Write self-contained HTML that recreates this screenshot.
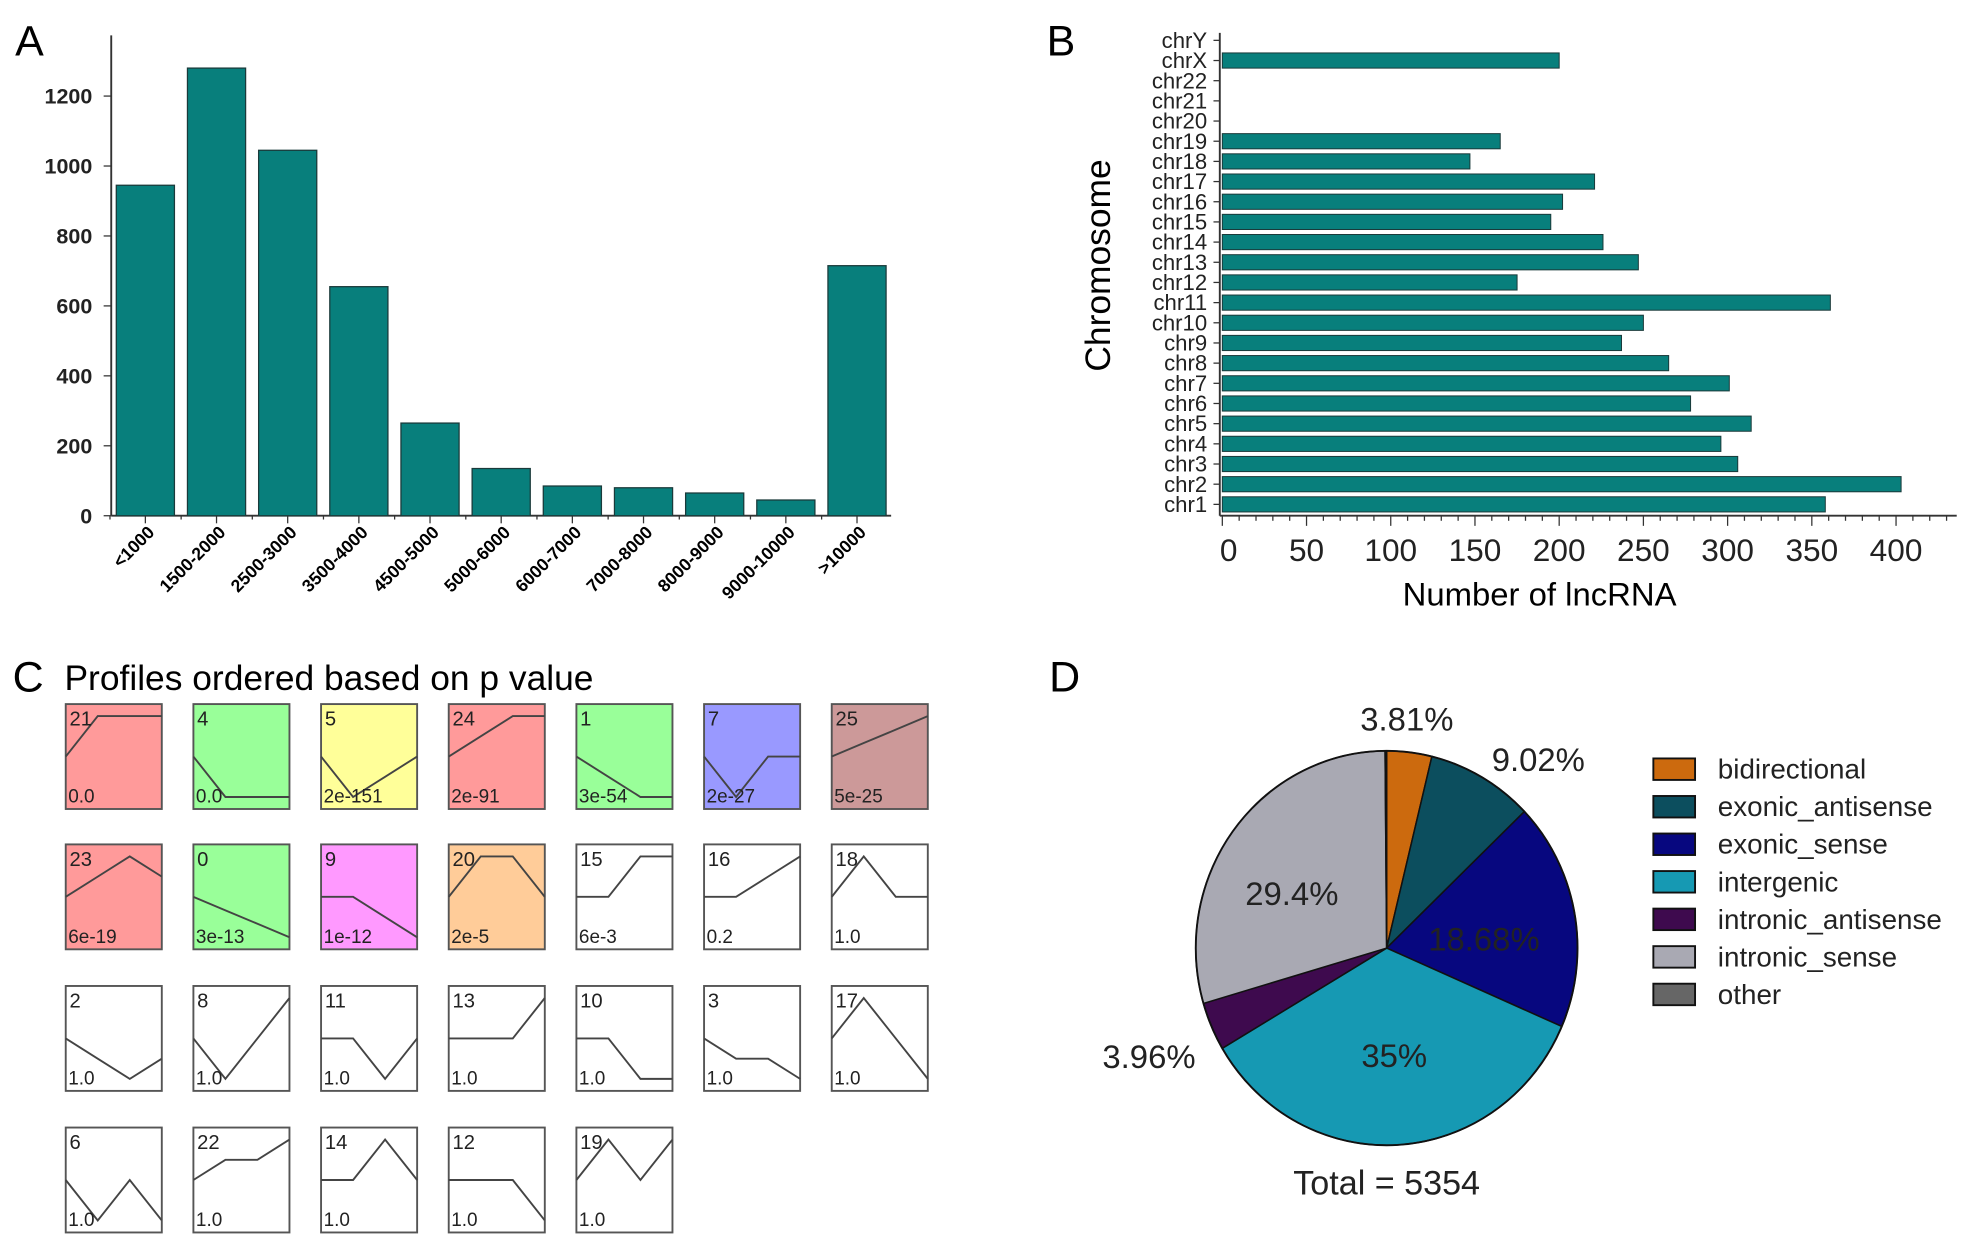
<!DOCTYPE html>
<html><head><meta charset="utf-8"><style>
html,body{margin:0;padding:0;background:#fff}
svg{display:block;font-family:"Liberation Sans",sans-serif}
</style></head><body>
<svg id="s" width="1982" height="1247" viewBox="0 0 1568 986.5" preserveAspectRatio="none" xmlns="http://www.w3.org/2000/svg"></svg>
<script>
// Panel A data
const lenCats = ["<1000","1500-2000","2500-3000","3500-4000","4500-5000","5000-6000","6000-7000","7000-8000","8000-9000","9000-10000",">10000"];
const lenVals = [945,1280,1045,655,265,135,85,80,65,45,715];
const lenTicks = [0,200,400,600,800,1000,1200];
// Panel B data
const chrCats = ["chr1","chr2","chr3","chr4","chr5","chr6","chr7","chr8","chr9","chr10","chr11","chr12","chr13","chr14","chr15","chr16","chr17","chr18","chr19","chr20","chr21","chr22","chrX","chrY"];
const chrVals = [358,403,306,296,314,278,301,265,237,250,361,175,247,226,195,202,221,147,165,0,0,0,200,0];
const chrTicks = [0,50,100,150,200,250,300,350,400];
// Panel C data
const profIds = ["21","4","5","24","1","7","25","23","0","9","20","15","16","18","2","8","11","13","10","3","17","6","22","14","12","19"];
const profP = ["0.0","0.0","2e-151","2e-91","3e-54","2e-27","5e-25","6e-19","3e-13","1e-12","2e-5","6e-3","0.2","1.0","1.0","1.0","1.0","1.0","1.0","1.0","1.0","1.0","1.0","1.0","1.0","1.0"];
const profVals = [[0,2,2,2],[0,-2,-2,-2],[0,-2,-1,0],[0,1,2,2],[0,-1,-2,-2],[0,-2,0,0],[0,0.67,1.33,2],
[0,1,2,1],[0,-0.67,-1.33,-2],[0,0,-1,-2],[0,2,2,0],[0,0,2,2],[0,0,1,2],[0,2,0,0],
[0,-1,-2,-1],[0,-2,0,2],[0,0,-2,0],[0,0,0,2],[0,0,-2,-2],[0,-1,-1,-2],[0,2,0,-2],
[0,-2,0,-2],[0,1,1,2],[0,0,2,0],[0,0,0,-2],[0,2,0,2]];
const profFill = ["#ff9a9a","#99ff99","#ffff99","#ff9a9a","#99ff99","#9999ff","#cc9999","#ff9a9a","#99ff99","#ff99ff","#ffcc99","#fff","#fff","#fff","#fff","#fff","#fff","#fff","#fff","#fff","#fff","#fff","#fff","#fff","#fff","#fff"];
// Panel D data
const pieCats = ["bidirectional","exonic_antisense","exonic_sense","intergenic","intronic_antisense","intronic_sense","other"];
const pieVals = [3.81,9.02,18.68,35,3.96,29.4,0.13];
const pieLabels = ["3.81%","9.02%","18.68%","35%","3.96%","29.4%",""];
const pieColors = ["#cc6a0e","#0c4e5e","#07077f","#1699b3","#3e0a4e","#a9a9b3","#666"];

const S=document.getElementById('s'),NS="http://www.w3.org/2000/svg";
function mk(t,a,txt){const e=document.createElementNS(NS,t);for(const k in a)e.setAttribute(k,a[k]);if(txt!==undefined)e.textContent=txt;S.appendChild(e);return e;}

// ---- Panel A ----
let e=mk('text',{x:12,y:44,'font-size':34},'A');

const aY=v=>408-v*332/1200, aX0=92, aPitch=56.3, aW=46;
e=mk('line',{x1:88,y1:28,x2:88,y2:408,stroke:'#333','stroke-width':1.5});

e=mk('line',{x1:88,y1:408,x2:705,y2:408,stroke:'#333','stroke-width':1.5});

lenTicks.forEach(t=>{mk('line',{x1:82,x2:88,y1:aY(t),y2:aY(t),stroke:'#333'});
 e=mk('text',{x:73,y:aY(t)+6,'font-size':17,'font-weight':'bold','text-anchor':'end',fill:'#222'},t);
 });
lenVals.forEach((v,i)=>{const x=aX0+i*aPitch;
 e=mk('rect',{x:x,y:aY(v),width:aW,height:408-aY(v),fill:'#087f7c',stroke:'#1a3a3a','stroke-width':1});
 
 mk('line',{x1:x+aW/2,x2:x+aW/2,y1:408,y2:414,stroke:'#333'});
 mk('line',{x1:x-5,x2:x-5,y1:408,y2:411,stroke:'#333'});
 const lx=x+aW/2+8, ly=422;
 e=mk('text',{x:lx,y:ly,'font-size':14,'font-weight':'bold','text-anchor':'end',transform:`rotate(-45 ${lx} ${ly})`},lenCats[i]);
 });

// ---- Panel B ----
e=mk('text',{x:828,y:44,'font-size':34},'B');

const bX=v=>967+v*533/400, bY=i=>399-i*15.96;
e=mk('line',{x1:965,y1:26,x2:965,y2:408,stroke:'#333','stroke-width':1.5});

e=mk('line',{x1:965,y1:408,x2:1548,y2:408,stroke:'#333','stroke-width':1.5});

for(let v=0;v<=435;v+=10){const x=bX(v);mk('line',{x1:x,x2:x,y1:408,y2:v%50==0?416:412,stroke:'#333'});}
chrTicks.forEach(t=>{e=mk('text',{x:bX(t)+(t==0?5:0),y:444,'font-size':25,'text-anchor':'middle',fill:'#222'},t);
 });
e=mk('text',{x:1218,y:479,'font-size':26,'text-anchor':'middle'},'Number of lncRNA');

e=mk('text',{x:878,y:210,'font-size':28,'text-anchor':'middle',transform:'rotate(-90 878 210)'},'Chromosome');

chrVals.forEach((v,i)=>{const y=bY(i);
 mk('line',{x1:960,x2:965,y1:y,y2:y,stroke:'#333'});
 if(v>0){e=mk('rect',{x:967,y:y-6,width:bX(v)-967,height:12,fill:'#087f7c',stroke:'#1a3a3a','stroke-width':0.8});
 }
 e=mk('text',{x:955,y:y+6,'font-size':17.5,'text-anchor':'end',fill:'#222'},chrCats[i]);
 });

// ---- Panel C ----
e=mk('text',{x:10,y:547,'font-size':34},'C');

e=mk('text',{x:51,y:546,'font-size':28},'Profiles ordered based on p value');

const rowsY=[557,668,780,892];
profIds.forEach((id,i)=>{const c=i%7,r=Math.floor(i/7);const x=52+c*101,y=rowsY[r],w=76,h=83;
 e=mk('rect',{x:x,y:y,width:w,height:h,fill:profFill[i],stroke:'#555','stroke-width':1.5});
 
 const pv=profVals[i];
 const pts=pv.map((v,k)=>`${x+k*w/3},${y+h/2-v*16}`).join(' ');
 e=mk('polyline',{points:pts,fill:'none',stroke:'#444','stroke-width':1.5});
 
 e=mk('text',{x:x+3,y:y+17,'font-size':16,fill:'#222'},id);
 
 e=mk('text',{x:x+2,y:y+h-5,'font-size':15,fill:'#222'},profP[i]);
 });

// ---- Panel D ----
e=mk('text',{x:830,y:547,'font-size':34},'D');

const cx=1097,cy=750,rx=151,ry=156;const tot=pieVals.reduce((a,b)=>a+b,0);
let acc=0;
pieVals.forEach((v,i)=>{const a0=acc/tot*2*Math.PI;acc+=v;const a1=acc/tot*2*Math.PI;
 const p=a=>[cx+rx*Math.sin(a),cy-ry*Math.cos(a)];const [x0,y0]=p(a0),[x1,y1]=p(a1);
 e=mk('path',{d:`M${cx},${cy}L${x0},${y0}A${rx},${ry} 0 ${a1-a0>Math.PI?1:0} 1 ${x1},${y1}Z`,fill:pieColors[i],stroke:'#111','stroke-width':1.2});
 });
e=mk('ellipse',{cx:cx,cy:cy,rx:rx,ry:ry,fill:'none',stroke:'#111','stroke-width':1.5});
const lblPos=[[1113,578],[1217,610],[1174,752],[1103,844],[909,845],[1022,716]];
lblPos.forEach((p,i)=>{e=mk('text',{x:p[0],y:p[1],'font-size':26,'text-anchor':'middle',fill:'#222'},pieLabels[i]);
 });
e=mk('text',{x:1097,y:945,'font-size':27,'text-anchor':'middle',fill:'#222'},'Total = 5354');

pieCats.forEach((c,i)=>{const y=600+i*29.7;
 e=mk('rect',{x:1308,y:y,width:33,height:17,fill:pieColors[i],stroke:'#111','stroke-width':1.5});
 
 e=mk('text',{x:1359,y:y+16,'font-size':22,fill:'#222'},c);
 });
</script>
</body></html>
